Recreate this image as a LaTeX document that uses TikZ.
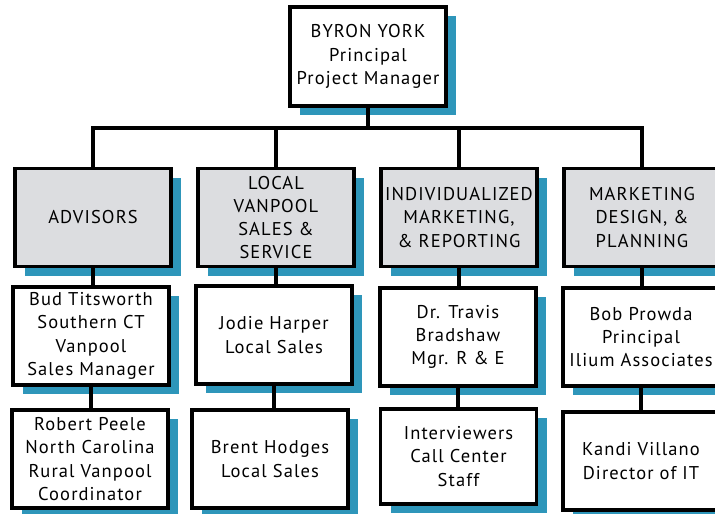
\documentclass[tikz,border=0pt]{standalone}
\usepackage{fontspec}
\setmainfont{PT Sans}[LetterSpace=6]
\usetikzlibrary{shadows}
\definecolor{shadowblue}{RGB}{46,150,186}
\definecolor{headgrey}{RGB}{220,221,224}
\tikzset{
  x=1pt, y=-1pt,
  orgbox/.style={draw=black, line width=3.5pt, fill=white, minimum width=156pt, minimum height=98pt,
    inner sep=1pt, align=center, font=\fontsize{18.5}{23.3}\selectfont,
    drop shadow={shadow xshift=10pt, shadow yshift=-9pt, fill=shadowblue, opacity=1}},
  headbox/.style={orgbox, fill=headgrey},
  link/.style={draw=black, line width=3.5pt}
}
\begin{document}
\begin{tikzpicture}
\useasboundingbox (0,0) rectangle (715,514);
\clip (0,0) rectangle (715,514);
\fill[white] (0,0) rectangle (715,514);
% top
\node[orgbox, minimum height=99pt] (top) at (368,56.5) {BYRON YORK\\Principal\\Project Manager};
% level 1
\node[headbox] (adv) at (93,217.5) {ADVISORS};
\node[headbox] (loc) at (276,217.5) {LOCAL\\VANPOOL\\SALES \&\\SERVICE};
\node[headbox] (ind) at (459,217.5) {INDIVIDUALIZED\\MARKETING,\\\& REPORTING};
\node[headbox] (mkt) at (642,217.5) {MARKETING\\DESIGN, \&\\PLANNING};
% level 2
\node[orgbox] (bud) at (91,336) {Bud Titsworth\\Southern CT\\Vanpool\\Sales Manager};
\node[orgbox] (jod) at (274,335) {Jodie Harper\\Local Sales};
\node[orgbox] (tra) at (458,337) {Dr. Travis\\Bradshaw\\Mgr. R \& E};
\node[orgbox] (bob) at (641,337) {Bob Prowda\\Principal\\Ilium Associates};
% level 3
\node[orgbox] (rob) at (90,459) {Robert Peele\\North Carolina\\Rural Vanpool\\Coordinator};
\node[orgbox] (bre) at (270,459) {Brent Hodges\\Local Sales};
\node[orgbox, minimum height=95pt] (int) at (458.5,456.5) {Interviewers\\Call Center\\Staff};
\node[orgbox] (kan) at (641,461) {Kandi Villano\\Director of IT};
% bus
\coordinate (bus) at (0,128);
\draw[link] (top.south) -- (top.south |- bus);
\draw[link] (adv.north) -- (adv.north |- bus) -- (mkt.north |- bus) -- (mkt.north);
\draw[link] (loc.north) -- (loc.north |- bus);
\draw[link] (ind.north) -- (ind.north |- bus);
% columns
\draw[link] (adv.south) -- (adv.south |- bud.north);
\draw[link] (loc.south) -- (loc.south |- jod.north);
\draw[link] (ind.south) -- (ind.south |- tra.north);
\draw[link] (mkt.south) -- (mkt.south |- bob.north);
\draw[link] (bud.south) -- (bud.south |- rob.north);
\draw[link] (jod.south) -- (jod.south |- bre.north);
\draw[link] (tra.south) -- (tra.south |- int.north);
\draw[link] (bob.south) -- (bob.south |- kan.north);
\end{tikzpicture}
\end{document}
